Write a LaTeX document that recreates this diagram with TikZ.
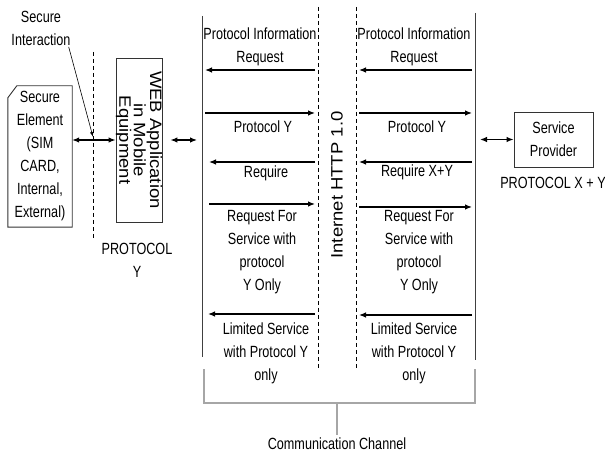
\documentclass[tikz,border=0pt]{standalone}
\usepackage{fontspec}
\setmainfont{Liberation Sans}[FakeStretch=0.78]
\newfontfamily\wideface{Liberation Sans}[FakeStretch=1.12]
\usetikzlibrary{arrows.meta,calc}

\tikzset{
	txt/.style={align=center, inner sep=1pt, font=\fontsize{16.2}{23}\selectfont},
	vtxt/.style={align=center, inner sep=1pt, font=\wideface\fontsize{16.5}{14.5}\selectfont},
	box/.style={draw=black!80, line width=0.9pt},
	msg/.style={-{Latex[length=7pt,width=5.5pt]}, line width=1.2pt},
	twoway/.style={{Latex[length=7pt,width=5.5pt]}-{Latex[length=7pt,width=5.5pt]}, line width=1.2pt},
	lane/.style={line width=0.9pt, black!75},
	border/.style={line width=0.7pt, dash pattern=on 4pt off 3pt},
	bracket/.style={line width=1.3pt, black!35},
}

\begin{document}
\begin{tikzpicture}[x=1pt, y=-1pt]
	\useasboundingbox (0,0) rectangle (605,454);
	
	%%%%% lanes %%%%%
	\coordinate (sep) at (93,52);
	\coordinate (l1) at (202,16);
	\coordinate (d1) at (318,7);
	\coordinate (d2) at (356,7);
	\coordinate (r1) at (475,13);
	
	\draw[border] (sep) -- (93,240);
	\draw[lane] (l1) -- (202,357);
	\draw[border] (d1) -- (318,368);
	\draw[border] (d2) -- (356,370);
	\draw[lane] (r1) -- (475,360);
	
	%%%%% mobile side %%%%%
	\node[txt, minimum width=64pt, minimum height=141pt] (sim) at (40,156.5) {Secure\\Element\\(SIM\\CARD,\\Internal,\\External)};
	\draw[box] ([yshift=-12pt]sim.north west) -- ([xshift=9pt]sim.north west) -- (sim.north east) -- (sim.south east) -- (sim.south west) -- cycle;
	
	\node[txt] (si) at (41,28.5) {Secure\\Interaction};
	\coordinate (tip) at (sep |- 0,137);
	\draw[-{Latex[length=5pt,width=3.5pt]}, line width=0.6pt] ([xshift=-3pt]si.south east) -- (tip);
	
	\node[box, minimum width=46pt, minimum height=164pt] (web) at (139,140) {};
	\node[vtxt, rotate=-90] (webtxt) at (web.center) {WEB Application\\in Mobile\\Equipment};
	\node[txt] (py) at (137,260) {PROTOCOL\\Y};
	
	\draw[twoway] (sim.east |- web.west) -- (web.west);
	\draw[twoway] ([xshift=8pt]web.east) -- ($(web.east -| l1)+(-5,0)$);
	
	%%%%% provider side %%%%%
	\node[txt, box, minimum width=79pt, minimum height=55pt] (sp) at (553.5,139.5) {Service\\Provider};
	\node[txt] (pxy) at (553,183) {PROTOCOL X + Y};
	\draw[twoway] ($(sp.west -| r1)+(5,0)$) -- (sp.west);
	
	\node[vtxt, rotate=90] (inet) at (337,185) {Internet HTTP 1.0};
	
	%%%%% messages, left %%%%%
	\node[txt] (la) at (260,47) {Protocol Information\\Request};
	\node[txt] (lb) at (263,127) {Protocol Y};
	\node[txt] (lc) at (266,173) {Require};
	\node[txt] (ld) at (262,252) {Request For\\Service with\\protocol\\Y Only};
	\node[txt] (le) at (266,353) {Limited Service\\with Protocol Y\\only};
	
	\foreach \y/\g in {70/3, 162/7, 314/6}
		\draw[msg] ($(d1 |- 0,\y)+(-3,0)$) -- ($(l1 |- 0,\y)+(\g,0)$);
	\foreach \y/\g in {113/3, 204/7}
		\draw[msg] ($(l1 |- 0,\y)+(\g,0)$) -- ($(d1 |- 0,\y)+(-3,0)$);
	
	%%%%% messages, right %%%%%
	\node[txt] (ra) at (414,47) {Protocol Information\\Request};
	\node[txt] (rb) at (417,127) {Protocol Y};
	\node[txt] (rc) at (417,172) {Require X+Y};
	\node[txt] (rd) at (419,252) {Request For\\Service with\\protocol\\Y Only};
	\node[txt] (re) at (414,353) {Limited Service\\with Protocol Y\\only};
	
	\foreach \y in {70, 162, 315}
		\draw[msg] ($(r1 |- 0,\y)+(-3,0)$) -- ($(d2 |- 0,\y)+(3,0)$);
	\foreach \y in {113, 207}
		\draw[msg] ($(d2 |- 0,\y)+(3,0)$) -- ($(r1 |- 0,\y)+(-3,0)$);
	
	%%%%% channel brace %%%%%
	\node[txt, inner sep=1pt] (cc) at (337,444) {Communication Channel};
	\draw[bracket] (204,369) -- (204,403) -- (475,403) -- (475,369);
	\draw[bracket] (cc.north |- 0,403) -- ([yshift=2pt]cc.north);
\end{tikzpicture}
\end{document}
